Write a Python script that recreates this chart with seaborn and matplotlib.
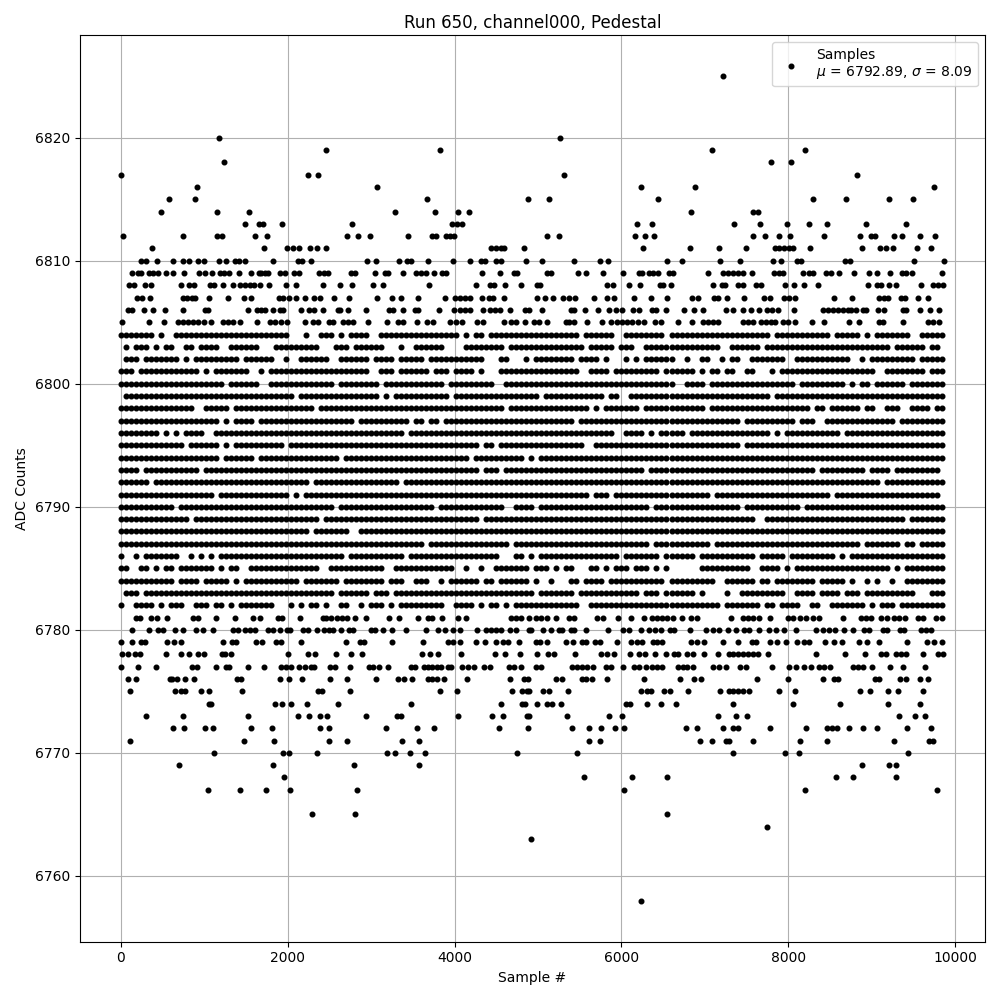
#!/usr/bin/env python3
"""
Pedestal scatter for run 650, channel000
"""

import numpy as np
import pandas as pd
import matplotlib
matplotlib.use("Agg")
import matplotlib.pyplot as plt
import seaborn as sns

# Sample numbers read per ADC level, for the sparse levels
s6825 = [7212]
s6820 = [1172, 5268]
s6819 = [2456, 3824, 7080, 8196]
s6818 = [1232, 7788, 8028]
s6817 = [0, 2240, 2360, 5316, 8820]
s6816 = [908, 3068, 6240, 6876, 9744]
s6815 = [572, 884, 3668, 4876, 5136, 6444, 8292, 8688, 9204, 9492]
s6814 = [476, 1148, 1532, 3284, 3764, 4040, 4172, 6828, 7572, 7632]
s6813 = [1484, 1652, 1700, 1928, 2768, 3964, 4028, 4092, 6192, 6372, 7344, 7656, 7980, 8244, 8460, 8928, 9408]
s6812 = [32, 740, 1148, 1208, 1604, 1748, 2708, 2840, 2984, 3440, 3728, 3780, 3900, 3940, 3988,
         5112, 5256, 6168, 6288, 6396, 7572, 7716, 7884, 8016, 8424, 8856, 8992, 9040, 9264, 9360, 9576, 9756]
s6811 = [368, 1712, 1988, 2060, 2132, 2264, 2348, 2456, 4440, 4500, 4560, 4592, 4832,
         6264, 6816, 7164, 7488, 7844, 7884, 7952, 8004, 8052, 8256, 8880, 9096, 9168, 9252, 9540, 9708]
s6810 = [240, 300, 428, 628, 748, 812, 920, 992, 1172, 1256, 1364, 1420, 1484, 1820, 2120, 2168, 2276,
         2948, 3056, 3332, 3428, 3476, 3680, 3980, 4184, 4320, 4360, 4500, 4552, 4860,
         5052, 5436, 5748, 5844, 6552, 6720, 7176, 7416, 7812, 7908, 8100, 8152, 8676, 8736, 9504, 9864]
s6809 = [140, 212, 248, 332, 380, 440, 536, 620, 752, 932, 1008, 1088, 1188, 1232, 1292, 1412, 1556,
         1652, 1680, 1728, 1768, 1904, 1964, 2072, 2140, 2380, 2432, 2488, 2756, 2812, 3044, 3172, 3208,
         3380, 3540, 3600, 3660, 3756, 3852, 3892, 4324, 4544, 4712, 4752,
         5112, 5160, 5484, 5572, 5784, 6024, 6212, 6252, 6332, 6384, 6444, 6572, 6620, 7032, 7212, 7280,
         7332, 7392, 7452, 7560, 7832, 7892, 7932, 8180, 8244, 8300, 8452, 8512, 8604, 8784, 8972, 9060,
         9216, 9360, 9412, 9484, 9844]
s6808 = [100, 160, 284, 356, 716, 812, 872, 1068, 1120, 1228, 1340, 1428, 1488, 1548, 1600, 1664, 1772,
         1976, 2096, 2420, 2624, 2768, 3028, 3140, 3692, 4256, 4420, 4468, 4604, 4796,
         4992, 5024, 5832, 5900, 6096, 6228, 6460, 6500, 6588, 7092, 7200, 7244, 7392, 7452, 7612, 7672,
         7956, 8064, 8184, 8352, 8952, 9060, 9112, 9204, 9292, 9588, 9732, 9792, 9852]
s6807 = [200, 252, 344, 748, 788, 848, 892, 1052, 1280, 1472, 1556, 1892, 1948, 2020, 2096, 2204, 2312,
         2384, 2552, 2732, 3068, 3248, 3356, 3560, 3884, 4000, 4060, 4120, 4180, 4332, 4412, 4460, 4592,
         4992, 5088, 5184, 5304, 5372, 5448, 5676, 5832, 5912, 6152, 6360, 6552, 6840, 6912, 7112, 7152,
         7260, 7464, 7704, 7776, 7952, 8012, 8076, 8544, 8764, 9092, 9152, 9200, 9352, 9404, 9560, 9672]
s6806 = [92, 132, 272, 380, 524, 740, 1004, 1044, 1520, 1628, 1680, 1728, 1820, 1904, 1948, 2156, 2260,
         2320, 2420, 2600, 2632, 2720, 2936, 3220, 3268, 3380, 3524, 3560, 3812, 3992, 4060, 4120, 4180,
         4340, 4428, 4480, 4540, 4660, 4840, 4896, 5052, 5392, 5432, 5568, 5724, 5856, 5932, 6012, 6144,
         6216, 6372, 6412, 6540, 6748, 6864, 6972, 7252, 7332, 7452, 7548, 7644, 7740, 7800, 7872, 8064,
         8412, 8472, 8532, 8592, 8652, 8712, 8752, 8812, 8892, 8932, 9072, 9152, 9372, 9412, 9580, 9704, 9808]
s6805 = [20, 340, 512, 680, 740, 800, 860, 920, 992, 1076, 1228, 1280, 1340, 1432, 1628, 1788, 1852, 1920,
         1988, 2204, 2300, 2360, 2492, 2548, 2660, 2720, 2780, 2964, 3188, 3328, 3380, 3548, 3668, 3740,
         3948, 4020, 4092, 4272, 4340, 4592, 4680, 4740, 4840, 4952, 5012, 5112, 5332, 5372, 5436, 5592,
         5772, 5872, 5944, 6012, 6072, 6132, 6200, 6272, 6400, 6480, 6672, 6840, 6972, 7032, 7100, 7152,
         7452, 7512, 7572, 7672, 7732, 7792, 7844, 7940, 7992, 8076, 8284, 8432, 8724, 8852, 9092, 9140,
         9372, 9672, 9732, 9804]

s6781 = [188, 236, 356, 428, 548, 860, 920, 1136, 1364, 1580, 1664, 1880, 1928, 2144, 2420, 2460, 2520,
         2588, 2648, 2708, 2804, 2936, 3212, 3332, 3560, 3680, 3728, 3848, 4040, 4136, 4680, 4732, 4792,
         4892, 4972, 5032, 5112, 5212, 5372, 5432, 5712, 5780, 5964, 6112, 6272, 6372, 6432, 6492, 6552,
         6612, 6724, 6832, 6900, 7308, 7452, 7512, 7572, 7652, 7776, 7992, 8052, 8140, 8212, 8292, 8372,
         8652, 8872, 8932, 8992, 9112, 9180, 9272, 9332, 9404, 9552, 9620, 9772, 9844]
s6780 = [140, 332, 440, 500, 644, 740, 900, 980, 1108, 1340, 1400, 1488, 1544, 1604, 1760, 1820, 1904,
         1988, 2028, 2180, 2240, 2348, 2432, 2500, 2540, 2636, 2740, 2780, 3000, 3052, 3144, 3248, 3416,
         3656, 3800, 3884, 3980, 4068, 4268, 4380, 4440, 4500, 4560, 4660, 4740, 4888,
         4912, 5064, 5152, 5252, 5292, 5392, 5432, 5580, 5844, 6024, 6092, 6232, 6332, 6404, 6472, 6580,
         6624, 6816, 7012, 7092, 7172, 7276, 7368, 7472, 7524, 7648, 7764, 7852, 7944, 8088, 8332, 8412,
         8492, 8564, 8672, 8772, 8912, 8972, 9132, 9180, 9340, 9392, 9592, 9652, 9712]
s6779 = [0, 140, 248, 292, 548, 632, 716, 1220, 1328, 1376, 1616, 1688, 1856, 1916, 2156, 2696, 2864, 2912,
         3248, 3620, 3920, 3980, 4064, 4256, 4368, 4496, 4580, 4640, 4772, 4972, 5024, 5112, 5340, 5424,
         5532, 5580, 5688, 5748, 5952, 6120, 6192, 6252, 6384, 6432, 6492, 6832, 6900, 6984, 7212, 7392,
         7560, 7608, 7776, 7860, 7972, 8100, 8184, 8244, 8436, 8544, 8640, 8852, 8940, 9084, 9420, 9660,
         9744, 9844]
s6778 = [20, 92, 172, 236, 536, 716, 812, 920, 992, 1208, 1244, 1316, 2000, 2240, 2324, 2576, 2756, 2888,
         3608, 3704, 3800, 4076, 4484, 4604, 4784, 4992, 5124, 5196, 5448, 5760, 5832, 5916, 6108, 6216,
         6288, 6404, 6540, 6624, 6672, 6780, 6852, 6984, 7152, 7284, 7332, 7392, 7452, 7512, 7572, 7632,
         7752, 8328, 8676, 8916, 9108, 9168, 9292, 9352, 9412, 9612, 9792, 9852]
s6777 = [8, 212, 416, 848, 908, 1136, 1256, 1292, 1520, 1712, 1916, 1980, 2040, 2132, 2204, 2276, 2312,
         2504, 2564, 2744, 2972, 3020, 3092, 3200, 3476, 3524, 3632, 3680, 3732, 3788, 3840, 3920, 3960,
         4088, 4160, 4232, 4352, 4428, 4652, 4712, 4796, 4972, 5040, 5412, 5472, 5532, 5592, 5664, 5820,
         5880, 6024, 6156, 6212, 6300, 6372, 6432, 6492, 6672, 6732, 6780, 6852, 7092, 7172, 7252, 7416,
         7488, 7800, 8004, 8088, 8184, 8268, 8372, 8432, 8504, 8772, 8832, 8892, 9000, 9216, 9372, 9640]
s6776 = [92, 188, 584, 608, 668, 764, 872, 1388, 1440, 1904, 2012, 2168, 2504, 2708, 3056, 3320, 3392, 3488,
         3680, 3728, 3788, 3872, 4148, 4664, 4832, 4880, 5220, 5292, 5532, 5580, 5652, 5832, 6276, 6696,
         6864, 6948, 7620, 7992, 8416, 8544, 8592, 9036, 9084, 9336, 9412, 9580, 9672]
s6775 = [116, 644, 716, 764, 956, 1052, 1448, 2360, 2408, 2744, 3824, 4028, 4688, 4808, 4868, 4892, 5060,
         5136, 5364, 6240, 6312, 6360, 6516, 6576, 6792, 7176, 7292, 7340, 7392, 7452, 7524, 7884, 8076,
         8856, 8976, 9192, 9312, 9612]
s6774 = [1060, 1084, 1844, 1928, 2036, 2228, 2600, 3476, 4556, 4808, 4840, 4992, 5112, 5172, 5280, 6060,
         6104, 6312, 6480, 6648, 7332, 8052, 8616, 9192, 9576]
s6773 = [296, 740, 1520, 2120, 2252, 2384, 2468, 2936, 3308, 3356, 4040, 4448, 4580, 4868, 4892, 5352, 5856,
         6012, 7152, 7368, 7500, 9324, 9516, 9636]
s6772 = [620, 752, 1004, 1100, 1556, 1808, 2384, 2492, 3176, 3548, 3752, 4532, 4880, 5412, 5616, 5760, 5928,
         6036, 6768, 6900, 7212, 7340, 7392, 7776, 8208, 8460, 8520, 8580, 8732, 8892, 9060, 9420, 9708]
s6771 = [116, 1472, 1832, 2492, 2708, 3368, 3572, 5616, 5748, 6936, 7080, 7252, 7292, 7572, 8136, 8460, 9264,
         9692, 9732]
s6770 = [1112, 1940, 2012, 2348, 3188, 3284, 3464, 3644, 4748, 5472, 7332, 7956, 8124, 9432]
s6769 = [692, 1820, 2792, 3572, 8880, 9204, 9288]
s6768 = [1952, 5556, 6132, 6552, 8568, 8772, 9288]
s6767 = [1040, 1424, 1736, 2024, 2828, 6036, 8196, 9780]
s6765 = [2288, 2804, 6552]
s6764 = [7740]
s6763 = [4912]
s6758 = [6240]

SPARSE_LEVELS = [6825, 6820, 6819, 6818, 6817, 6816, 6815, 6814, 6813, 6812, 6811, 6810, 6809, 6808, 6807,
                 6806, 6805, 6781, 6780, 6779, 6778, 6777, 6776, 6775, 6774, 6773, 6772, 6771, 6770, 6769,
                 6768, 6767, 6765, 6764, 6763, 6758]
SPARSE_SAMPLES = [s6825, s6820, s6819, s6818, s6817, s6816, s6815, s6814, s6813, s6812, s6811, s6810, s6809,
                  s6808, s6807, s6806, s6805, s6781, s6780, s6779, s6778, s6777, s6776, s6775, s6774, s6773,
                  s6772, s6771, s6770, s6769, s6768, s6767, s6765, s6764, s6763, s6758]

# Dense levels are too crowded to read single samples, so each one is read
# as occupancy per BIN_WIDTH samples (x = occupied, groups of 10 bins)
BIN_WIDTH = 60
m6804 = "xxxxxxx.x. .xxxxxxxxx xxxxxxxxxx xxxx...x.. xxx.x.xxxx ..xxxxxxxx xxxxxxxx.x .xx.xxxxxx xxxxxxxxxx xx.xxxxxx. .xxxxxxxx. xxxxxxxxxx xxxxxxxxxx .xxxxxxxxx xx.xxxxx.x .xxxxxxx.. xxxxx"
m6803 = ".x.xxx.x.x x..xx.xxxx ..xxxxxx.. .xxxxxxxxx ...xxx.xxx xxx...x..x xxxxx....x xxxxxxx.xx xxxxxxxxxx xxx.xxxxx. xxx..xxxxx xxxxxxxxxx ..xxxxxx.x xxxxxxxxxx xxxxxxxxxx xxxx.xxxxx x.xx."
m6802 = ".xxx.xxxxx xx.x.xxxxx xxxx.xxxxx x..x..xxxx xx..xxxxxx .xxxx.xxxx x.xxxxxxxx xxx...xx.. .x.xxxxxxx x.xxxx.x.. .x.x.xxxxx x..x..xx.. x.xx..xxxx xxx..xxxxx xxxxxx..x. xxxxxxxxx. xxxxx"
m6801 = "xxx.xxxxxx xxxxxx.x.x xxxxxx..x. xxxxxxxxxx xxxxxxxxxx ..xxx.xxxx xx.xxx.xxx x.x...xxxx xxxxxxxxxx xx..xxxx.x xxxxxxxx.x xxxxx.x.xx .xx..xx... x.xxxxxxxx xxxxxxxxxx x..xxxxxxx x.xxx"
m6800 = "xxxxxxxxxx xxxxxxxxxx x.xxxxxx.. xxxxxxxxxx xxx.xxxxxx xx.xxxxxxx xxxxx.xxxx xxxxx..xxx xxxxxxxxxx xxxxxxxxxx xxxxxxxxxx x..xxxx.xx xxxxxxxxxx xxxxx.xxxx xxxxx.x.xx .xxxxxx.xx xxxxx"
m6799 = ".xxxxxxxxx xxxxxxxxxx xxxxxxxxxx xxxxx.xxxx xxxxxxxxxx xx.x.xxxxx xxxxxx.xxx xxxxxxxxxx xxxx.xxxxx xxxxxxx.xx ..xxxxxxxx xxxxxxxxxx xxxxxxxxxx .xxxxxxxxx xxxxxxxxxx xxxxxxxxxx xxxxx"
m6798 = "xxxxxxxxxx xxxxx..xxx xx.xxxxxxx xxxxxxxxx. xxxxxxxxxx xxxxxxxxxx xxxxxxxxxx xxxxxxx.xx xxxxxxxxxx xxxx.x.xxx xxxx.xxxxx xxxxxxx.xx xxxxxxxxxx xxxxxxxx.x x.xxxxxx.x x..xxx..xx xx.xx"
m6797 = "xxxxxxxxxx xxxxxxxxxx .x.xxxx.xx xxxxxxxxxx xxxxxxx.xx xxxxxxxx.x x.xx.xxxxx xxxxxxxxxx xxxxxxxxxx x.xxxxxxxx xxxxxxxxxx xxxxxxxxxx xxxx.xxxxx xxxxx.xxx. .xxxxxxxxx xxxxx.xxxx xxxxx"
m6796 = "xxxxxxxx.x .x.xxxx..x xxxxxxxxxx xxxxxxxxxx xxxxxxxxxx xxxxxxx.xx xxxxxxxxxx xxxxxxxxxx xxxxxxxxxx xxxxxxxxx. .xxxx.x.xx xxx.xxxxxx xxxxxxxxxx .x.xxxxxxx xxxx.xxxxx xxxxxxxxxx xxxxx"
m6795 = "xxxxxxxxxx xxx.xxxxxx .x.xxxxxxx xxx.xxxxxx xxxxxxxxxx xxxxxxxxxx xxxxxxxxxx xx.xx.xxxx xxxxxxxxxx xxx..xxxxx xxxxxxxxxx xxxxxxxxxx xxxx.xxxxx xxxxxxxxxx xxxxxxxxxx xxxxxxxxxx xxxxx"
m6794 = "xxxxxxxxxx xxxxxxxxxx .xxxxxx.xx xxxxxxxxxx xxxx.xxxxx xxxxxxxxxx xxxxxxxxxx .xxxxxxxxx x.x.xxxxxx xxxxxxxxxx xxxxxxxxxx xxxxxxxxxx xxxxxxxxxx xxxxxxxxxx xxxxxxxxxx xxxxxxxxxx xxxxx"
m6793 = "xxxx.xxxxx xxxxxx.xxx xxxxxxxxxx xxxxxxxxxx xxxxxxxxxx xxxxxxxxxx xxxxxxxxxx xx.xxx.xxx xxxxxxxxxx xxxxxxxxxx xxxxx.xxxx xxxxxxxxxx xxxxxxxxxx xxxxxxxxx. xxxxxxxxx. xxxx.xxxxx xxxx."
m6792 = "xxxxxx.xxx xxxxxxxxxx xxxxxxxxxx xxxxxxxx.x xxxxxxxxxx xxxxxx.xxx xxxxxxxxxx xxxxxxxxxx xxxxxxxxxx xxxxxxxxxx xxxxxxxxxx xxxxxxxxxx xxxxxxxxxx xxxxxxxxxx xxxxxxxxxx xx.xxxxxxx xxxxx"
m6791 = "xxxxxxxxxx xxxxxxxxx. xxxxxxxxxx xxxx.x.xxx xxxxxxxxxx xxxxxxxxxx xxxxxxxxxx xxxxxxxxxx xxxxxxxxxx xxxx.xxx.x xxxxxxxxxx xxxxxxxx.x xxxxxxxxxx xxxxxxxxxx xx.xxxxxxx xxxxxxxxxx xxxx."
m6790 = "xxxxxxxxxx x.xxxxxxxx xxxxxxxxxx xxxxxxxxxx xxx.xxxxxx xxxxxxxxxx xxx.xxxxxx xxxxxxx..x xxx.xxxxxx xxxxxxxxxx xxxxxx.xxx xxxxxxxxxx xxxx.xxxxx xxxxxx.xxx xxxxxxxxxx xxxxxxxxxx xxxxx"
m6789 = "xxxxxxxxxx xxxx.xxxxx xxxxxxxxxx xxxxxxxxxx .xxxxxxxxx xxxxxxxxxx xxxxxxxxxx xx.xxxxxxx xxxxxxxxxx xxxxxxxxxx xxxxxxxxxx xxxxxxxxxx xxxxxxx..x xxxxxxxxxx xxxxxxxxxx xxxxxxx.xx xxxxx"
m6788 = "xxxxxxxxxx xxxxxxxxxx xxxxxxxxxx xxxxxxxx.x xxxxxx..xx xxxxxxxxxx xxxxxxxxxx xxxxxxxxxx xxxxxxxxxx xxxxxxxxxx xxxxxxxxxx xxxxxxxxxx xxxxxxxxxx xxxxxxxxxx xxxxxxxxxx xxxxxxxxxx xxxxx"
m6787 = "xxxxxxxxxx xxxxxxxxxx xxxxxxxxxx xxxxxxxxxx xxxxxxxxxx xxxxxxxxxx x.xxxxxxxx xxxxxxxx.x xxxxxxxxxx xxxxxxxxxx xxxxxx.xxx xxxxxxxx.x xxxxxxxxxx xxxxxxxxxx xxxxxxxx.x xxxxxx.xx. xxxxx"
m6786 = "x..x.xxxxx xx..x.x.x. xxxxxxxxxx xxxxxxxxxx xxxxx.xxxx xxxxxxx.xx xxxxxxxxxx xxxxxx...x x.x.xxxxxx xxxxxxxxxx .xxxxxxx.x xxxxx.xxxx xxxxxxx.xx xxx.xxxxxx xxx.x.xxxx xxxxxxxxxx xxxxx"
m6785 = "xx..xx.x.x x.xxxxxxx. x.xx..xxxx xxxxxxxxxx ..xxxxxxxx xxx..xxxxx xxxxxxx..x ..x..xxxxx xx.xxx.x.x x...xx.x.x xx.xxx.x.x ......xxxx xxxxxx..xx xx.x.xxxxx xxxxxxxxxx xxxx.x.xxx xxxxx"
m6784 = "xxxxxxxxxx x.xxxx.xxx xx.x.xxxxx xxxxxx.xxx xxxx.xxxxx xxx.xxx..x xx..x.xxxx xx.xx.xxxx xx.x..x... xx.xxxx.xx xxxxxxxxx. xxxxxxxxx. .xxxxxx.xx .xxxxxxxx. xxxxx.x..x .x..x..xxx xxxxx"
m6783 = ".xxx.xxxxx xxxxxxxxxx xxxxxxxxxx xxxxxxxxxx xxx.xxxxxx .xxx.xxxxx xxxxxxxxxx xxxxxxxxxx xxx.xxxxxx x.xxxxxxxx xxxx.xxx.x xxxxx.x... .x..xxxxxx xxx..xxxx. xxxx.xxx.x xxxxxxxxx. ..xxx"
m6782 = "x..xxxx.x. xxx..xxx.x x.x.xxxxxx x...x.x.xx .x..xx..x. xxx.x.xxxx xxxxx..xxx x.x.xx.x.x xxxxxxxxxx xx..xxxxxx xxxxxxxxxx xxxxxxxxxx .xxxxxxx.x x.xxxx..xx ..xxxxxxx. x.xxx.xxxx xxxxx"

DENSE_LEVELS = list(range(6804, 6781, -1))
DENSE_MASKS = [m6804, m6803, m6802, m6801, m6800, m6799, m6798, m6797, m6796, m6795, m6794, m6793,
               m6792, m6791, m6790, m6789, m6788, m6787, m6786, m6785, m6784, m6783, m6782]


def build_frame():
    """Collect sparse and dense levels into one table"""
    rows = []
    for level, samples in zip(SPARSE_LEVELS, SPARSE_SAMPLES):
        rows.append(pd.DataFrame({'sample': samples, 'adc': level}))
    for level, mask in zip(DENSE_LEVELS, DENSE_MASKS):
        bins = np.flatnonzero(np.array(list(mask.replace(' ', ''))) == 'x')
        rows.append(pd.DataFrame({'sample': bins * BIN_WIDTH, 'adc': level}))
    return pd.concat(rows, ignore_index=True)


def main():
    df = build_frame()

    fig, ax = plt.subplots(figsize=(10, 10), dpi=100)
    sns.scatterplot(data=df, x='sample', y='adc', color='black', marker='.', s=44,
                    edgecolor='black', linewidth=1, zorder=3, ax=ax,
                    label='Samples\n$\\mu$ = 6792.89, $\\sigma$ = 8.09')

    ax.set_title('Run 650, channel000, Pedestal', pad=5.3)
    ax.set_xlabel('Sample #')
    ax.set_ylabel('ADC Counts')
    ax.grid(True)
    ax.legend(loc='upper right')

    plt.tight_layout()
    # axes top sits 35 px below the figure edge in the reference
    fig.subplots_adjust(top=0.965)
    plt.savefig('out.png', dpi=100)
    plt.close()


if __name__ == "__main__":
    main()
